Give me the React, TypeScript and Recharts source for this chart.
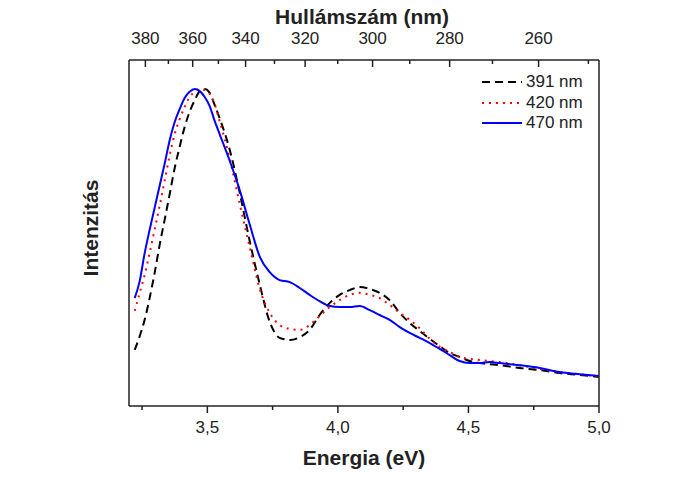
import { LineChart, Line, XAxis, YAxis, Legend, Label } from "recharts";

// photon energy (eV)
const energy = [
  3.222, 3.241, 3.26, 3.279, 3.298, 3.318, 3.337, 3.356, 3.375, 3.394, 3.413,
  3.432, 3.452, 3.471, 3.49, 3.509, 3.528, 3.547, 3.586, 3.624, 3.663, 3.701,
  3.739, 3.777, 3.816, 3.854, 3.892, 3.93, 3.969, 4.007, 4.045, 4.084, 4.122,
  4.16, 4.198, 4.237, 4.275, 4.313, 4.352, 4.39, 4.428, 4.466, 4.505, 4.543,
  4.581, 4.62, 4.696, 4.773, 4.849, 4.926, 5.0,
];

// normalised intensities
const em391 = [
  16.2, 20.2, 24.9, 31.2, 38.4, 46.8, 54.0, 61.3, 68.8, 74.9, 80.6, 85.0, 88.4,
  91.0, 91.6, 90.5, 87.0, 83.2, 74.0, 61.6, 47.4, 35.0, 24.3, 19.7, 19.1, 19.9,
  22.0, 26.3, 29.8, 32.1, 33.5, 34.4, 33.8, 32.7, 30.6, 26.9, 24.0, 21.7, 19.4,
  17.3, 15.3, 14.2, 13.0, 12.4, 12.1, 11.8, 11.0, 10.4, 9.5, 9.0, 8.4,
];
const em420 = [
  27.5, 32.7, 37.9, 44.2, 50.9, 58.1, 65.3, 72.5, 78.6, 82.9, 86.4, 89.3, 90.8,
  91.6, 91.3, 90.2, 87.3, 82.4, 71.4, 58.4, 45.7, 33.8, 26.9, 23.4, 22.3, 22.0,
  23.4, 26.0, 28.6, 30.6, 32.1, 32.7, 32.1, 31.2, 29.2, 26.9, 24.9, 22.5, 19.4,
  17.1, 15.6, 14.2, 13.6, 13.3, 13.0, 12.7, 11.8, 10.7, 9.8, 9.2, 8.4,
];
const em470 = [
  31.2, 36.1, 44.2, 50.9, 57.2, 63.9, 70.2, 76.9, 82.1, 85.8, 89.0, 90.8, 91.6,
  91.0, 89.3, 86.7, 82.4, 78.6, 70.8, 62.4, 52.3, 43.1, 38.7, 36.4, 35.8, 34.1,
  32.1, 30.3, 28.9, 28.6, 28.6, 28.9, 27.7, 26.3, 24.9, 22.8, 21.1, 19.7, 18.2,
  16.5, 14.7, 13.0, 12.4, 12.4, 12.7, 12.4, 11.8, 11.0, 9.8, 9.2, 8.7,
];

const energyTicks = [3.25, 3.5, 3.75, 4.0, 4.25, 4.5, 4.75, 5.0];
const energyLabeled = [3.5, 4.0, 4.5, 5.0];
const waveTicks = [380, 370, 360, 350, 340, 330, 320, 310, 300, 290, 280, 270, 260, 250];
const waveLabeled = [380, 360, 340, 320, 300, 280, 260];

const HC = 1239.84; // eV*nm
const FONT = "'Liberation Sans', Arial, sans-serif";
const AXIS = "#222";

const data = energy.map((e, i) => ({
  e,
  s391: em391[i],
  s420: em420[i],
  s470: em470[i],
}));

function BottomTick(props: any) {
  const { x, y, payload } = props;
  const v = payload.value;
  const major = energyLabeled.some((m) => Math.abs(m - v) < 1e-6);
  return (
    <g>
      <line x1={x} x2={x} y1={y} y2={y + (major ? 7 : 4)} stroke={AXIS} strokeWidth={1.5} />
      {major && (
        <text x={x} y={y + 27} textAnchor="middle" fontSize={17} fontFamily={FONT} fill={AXIS}>
          {v.toFixed(1).replace(".", ",")}
        </text>
      )}
    </g>
  );
}

function TopTick(props: any) {
  const { x, y, payload } = props;
  const nm = Math.round(HC / payload.value);
  const major = waveLabeled.includes(nm);
  return (
    <g>
      <line x1={x} x2={x} y1={y} y2={y + (major ? 7 : 4)} stroke={AXIS} strokeWidth={1.5} />
      {major && (
        <text x={x} y={y - 16} textAnchor="middle" fontSize={17} fontFamily={FONT} fill={AXIS}>
          {nm}
        </text>
      )}
    </g>
  );
}

function LegendBox(props: any) {
  const { payload } = props;
  return (
    <div style={{ fontFamily: FONT, fontSize: 17, color: AXIS }}>
      {payload.map((p: any) => (
        <div key={p.value} style={{ display: "flex", alignItems: "center", height: 20.5 }}>
          <svg width={46} height={10}>
            <line
              x1={2}
              x2={42}
              y1={5}
              y2={5}
              stroke={p.color}
              strokeWidth={2}
              strokeDasharray={p.payload?.strokeDasharray}
            />
          </svg>
          <span>{p.value}</span>
        </div>
      ))}
    </div>
  );
}

export default function App() {
  return (
    <div style={{ position: "absolute", left: 0, top: 0, background: "#fff" }}>
      <LineChart
        width={685}
        height={484}
        data={data}
        margin={{ top: 30, right: 76, bottom: 48, left: 99 }}
      >
        <XAxis
          xAxisId="bottom"
          dataKey="e"
          type="number"
          domain={[3.2, 5.0]}
          allowDataOverflow
          ticks={energyTicks}
          interval={0}
          height={30}
          tickSize={0}
          tickMargin={0}
          tickLine={false}
          tick={<BottomTick />}
          axisLine={{ stroke: AXIS, strokeWidth: 1.5 }}
        >
          <Label
            content={(p: any) => (
              <text
                x={p.viewBox.x + p.viewBox.width / 2}
                y={p.viewBox.y + 59}
                textAnchor="middle"
                fontSize={21}
                fontWeight="bold"
                fontFamily={FONT}
                fill={AXIS}
              >
                Energia (eV)
              </text>
            )}
          />
        </XAxis>
        <XAxis
          xAxisId="top"
          orientation="top"
          dataKey="e"
          type="number"
          domain={[3.2, 5.0]}
          allowDataOverflow
          ticks={waveTicks.map((w) => HC / w)}
          interval={0}
          height={30}
          tickSize={0}
          tickMargin={0}
          tickLine={false}
          tick={<TopTick />}
          axisLine={{ stroke: AXIS, strokeWidth: 1.5 }}
        >
          <Label
            content={(p: any) => (
              <text
                x={p.viewBox.x + p.viewBox.width / 2 - 2}
                y={p.viewBox.y + p.viewBox.height - 36}
                textAnchor="middle"
                fontSize={21}
                fontWeight="bold"
                fontFamily={FONT}
                fill={AXIS}
              >
                Hullámszám (nm)
              </text>
            )}
          />
        </XAxis>
        <YAxis
          yAxisId="left"
          domain={[0, 100]}
          width={30}
          tick={false}
          tickLine={false}
          axisLine={{ stroke: AXIS, strokeWidth: 1.5 }}
        >
          <Label
            content={(p: any) => {
              const cx = p.viewBox.x + p.viewBox.width - 31;
              const cy = p.viewBox.y + p.viewBox.height / 2 - 5;
              return (
                <text
                  x={cx}
                  y={cy}
                  transform={`rotate(-90 ${cx} ${cy})`}
                  textAnchor="middle"
                  fontSize={21}
                  fontWeight="bold"
                  fontFamily={FONT}
                  fill={AXIS}
                >
                  Intenzitás
                </text>
              );
            }}
          />
        </YAxis>
        <YAxis
          yAxisId="right"
          orientation="right"
          domain={[0, 100]}
          width={10}
          tick={false}
          tickLine={false}
          axisLine={{ stroke: AXIS, strokeWidth: 1.5 }}
        />
        <Legend
          layout="vertical"
          align="center"
          verticalAlign="middle"
          content={<LegendBox />}
          wrapperStyle={{ left: 480, top: 72, width: 120 }}
        />
        <Line
          xAxisId="bottom"
          yAxisId="left"
          type="monotone"
          dataKey="s391"
          name="391 nm"
          stroke="#000000"
          strokeWidth={2}
          strokeDasharray="8 5"
          dot={false}
          isAnimationActive={false}
        />
        <Line
          xAxisId="bottom"
          yAxisId="left"
          type="monotone"
          dataKey="s420"
          name="420 nm"
          stroke="#ff0000"
          strokeWidth={2}
          strokeDasharray="2 5"
          dot={false}
          isAnimationActive={false}
        />
        <Line
          xAxisId="bottom"
          yAxisId="left"
          type="monotone"
          dataKey="s470"
          name="470 nm"
          stroke="#0000ff"
          strokeWidth={2}
          dot={false}
          isAnimationActive={false}
        />
      </LineChart>
    </div>
  );
}
